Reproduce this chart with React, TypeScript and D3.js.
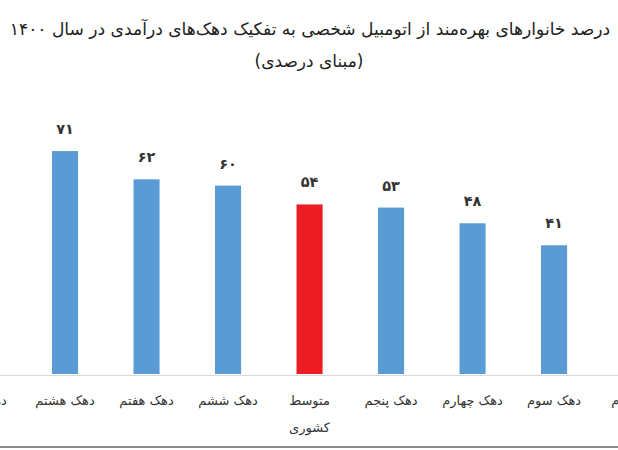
import React from "react";
import * as d3 from "d3";

const categories: string[] = [
  "دهک نهم",
  "دهک هشتم",
  "دهک هفتم",
  "دهک ششم",
  "متوسط کشوری",
  "دهک پنجم",
  "دهک چهارم",
  "دهک سوم",
  "دهک دوم",
];
// null = bar lies outside the cropped picture
const values: (number | null)[] = [null, 71, 62, 60, 54, 53, 48, 41, null];
const valueLabels: string[] = ["", "۷۱", "۶۲", "۶۰", "۵۴", "۵۳", "۴۸", "۴۱", ""];
const highlight: string[] = ["متوسط کشوری"];
const title = "درصد خانوارهای بهره‌مند از اتومبیل شخصی به تفکیک دهک‌های درآمدی در سال ۱۴۰۰";
const subtitle = "(مبنای درصدی)";

const W = 618;
const H = 450;
const FONT = "'DejaVu Sans', sans-serif";

export default function App() {
  const x = d3
    .scaleBand<string>()
    .domain(categories)
    .range([-70.25, 689.35])
    .paddingInner(0.68)
    .paddingOuter(0.5);
  const y = d3.scaleLinear().domain([0, 80]).range([374, 374 - 80 * 3.14]);
  const baseY = y(0);

  return (
    <svg
      width={W}
      height={H}
      viewBox={`0 0 ${W} ${H}`}
      style={{ position: "absolute", left: 0, top: 0, background: "#fff" }}
      fontFamily={FONT}
    >
      <rect x={0} y={0} width={W} height={H} fill="#ffffff" />
      <text x={310} y={35} textAnchor="middle" direction="rtl" fontSize={17.1} fill="#222">
        {title}
      </text>
      <text x={309} y={67} textAnchor="middle" direction="rtl" fontSize={17} fill="#222">
        {subtitle}
      </text>

      {categories.map((c, i) => {
        const v = values[i];
        if (v == null) return null;
        const bx = x(c)!;
        return (
          <g key={c}>
            <rect
              x={bx}
              y={y(v)}
              width={x.bandwidth()}
              height={baseY - y(v)}
              fill={highlight.includes(c) ? "#EC1C24" : "#5B9BD5"}
            />
            <text
              x={bx + x.bandwidth() / 2}
              y={y(v) - 17}
              textAnchor="middle"
              fontSize={14.5}
              fontWeight="bold"
              fill="#333"
            >
              {valueLabels[i]}
            </text>
          </g>
        );
      })}

      <line x1={0} x2={W} y1={baseY + 1.5} y2={baseY + 1.5} stroke="#d9d9d9" strokeWidth={1} />

      {categories.map((c) => {
        const cx = x(c)! + x.bandwidth() / 2;
        const words = c === "متوسط کشوری" ? ["متوسط", "کشوری"] : [c];
        return (
          <text key={c} x={cx} y={405} textAnchor="middle" direction="rtl" fontSize={13} fill="#333">
            {words.map((w, k) => (
              <tspan key={k} x={cx} dy={k === 0 ? 0 : 27}>
                {w}
              </tspan>
            ))}
          </text>
        );
      })}

      <line x1={0} x2={W} y1={447} y2={447} stroke="#8a8a8a" strokeWidth={2} />
    </svg>
  );
}
